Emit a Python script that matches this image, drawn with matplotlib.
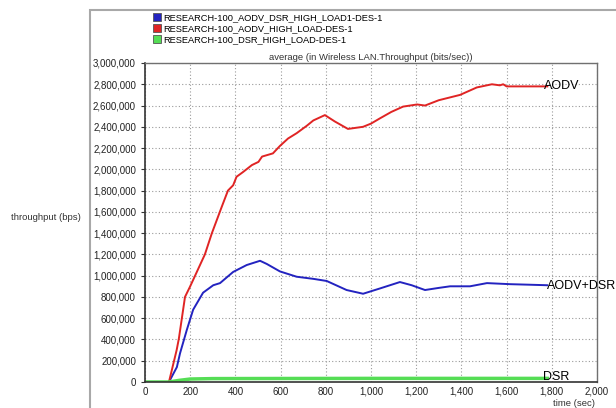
import matplotlib
matplotlib.use("Agg")
import matplotlib.pyplot as plt
from matplotlib.lines import Line2D
from matplotlib.patches import Rectangle
from matplotlib.ticker import FuncFormatter

plt.rcParams["font.family"] = ["Liberation Sans", "DejaVu Sans"]

# AODV (red)
aodv_t = [0, 106, 140, 150, 177, 200, 265, 296, 340, 367, 390, 405, 434, 473, 502, 518, 566, 597,
          633, 671, 716, 745, 796, 840, 898, 965, 1000, 1040, 1090, 1142, 1204, 1239, 1300, 1394,
          1468, 1535, 1570, 1585, 1600, 1690, 1761, 1780]
aodv_v = [0, 0, 0.30, 0.41, 0.80, 0.90, 1.20, 1.40, 1.65, 1.80, 1.85, 1.93, 1.975, 2.04, 2.07, 2.12,
          2.15, 2.22, 2.29, 2.34, 2.41, 2.46, 2.51, 2.45, 2.38, 2.40, 2.43, 2.48, 2.54, 2.59, 2.61,
          2.60, 2.65, 2.70, 2.77, 2.80, 2.79, 2.80, 2.78, 2.78, 2.78, 2.78]

# AODV+DSR (blue)
mix_t = [0, 106, 141, 155, 185, 213, 257, 302, 332, 390, 450, 509, 539, 597, 671, 745,
         804, 892, 965, 1040, 1128, 1180, 1239, 1300, 1350, 1438, 1513, 1615, 1700, 1780]
mix_v = [0, 0, 0.14, 0.27, 0.49, 0.68, 0.84, 0.91, 0.93, 1.035, 1.10, 1.14, 1.11, 1.04, 0.99, 0.97,
         0.95, 0.865, 0.83, 0.88, 0.94, 0.91, 0.865, 0.885, 0.90, 0.90, 0.93, 0.92, 0.915, 0.91]

# DSR (green)
dsr_t = [0, 106, 150, 200, 300, 600, 1000, 1400, 1780]
dsr_v = [0, 0, 0.015, 0.028, 0.032, 0.033, 0.034, 0.034, 0.034]

legend_labels = ["RESEARCH-100_AODV_DSR_HIGH_LOAD1-DES-1",
                 "RESEARCH-100_AODV_HIGH_LOAD-DES-1",
                 "RESEARCH-100_DSR_HIGH_LOAD-DES-1"]
colors = ["#2323c0", "#e02424", "#55dd55"]

W, H = 616, 408
fig = plt.figure(figsize=(6.16, 4.08), dpi=100)

# outer grey frame
fig.patches.append(Rectangle((90 / W, -0.1), 1.0, 1 - 10 / H + 0.1, transform=fig.transFigure,
                             fill=False, edgecolor="#a8a8a8", linewidth=1.5))

ax = fig.add_axes([145 / W, 1 - 382 / H, (597 - 145) / W, (382 - 63) / H])

M = 1e6
ax.plot(mix_t, [v * M for v in mix_v], color=colors[0], lw=1.4)
ax.plot(aodv_t, [v * M for v in aodv_v], color=colors[1], lw=1.4)
ax.plot(dsr_t, [v * M for v in dsr_v], color=colors[2], lw=2.5)

ax.set_xlim(0, 2000)
ax.set_ylim(0, 3e6)
ax.set_xticks(range(0, 2001, 200))
ax.set_yticks([i * 200000 for i in range(16)])
fmt = FuncFormatter(lambda v, p: f"{int(v):,}")
ax.xaxis.set_major_formatter(fmt)
ax.yaxis.set_major_formatter(fmt)
ax.tick_params(labelsize=7, length=3, width=0.8, color="#333333", labelcolor="#222222")
ax.tick_params(axis="x", length=0)
ax.grid(True, linestyle=(0, (1, 2)), color="#9a9a9a", linewidth=0.8)
for s in ["left", "bottom"]:
    ax.spines[s].set_color("#333333")
    ax.spines[s].set_linewidth(1.2)
for s in ["top", "right"]:
    ax.spines[s].set_color("#707070")
    ax.spines[s].set_linewidth(1.0)

ax.text(1765, 2.78 * M, "AODV", fontsize=9, va="center", ha="left")
ax.text(1779, 0.90 * M, "AODV+DSR", fontsize=9, va="center", ha="left")
ax.text(1763, 0.047 * M, "DSR", fontsize=9, va="center", ha="left")

fig.text(371 / W, 1 - 57 / H, "average (in Wireless LAN.Throughput (bits/sec))",
         fontsize=6.8, ha="center", va="center", color="#333333")
fig.text(46 / W, 1 - 218 / H, "throughput (bps)", fontsize=6.8, ha="center", va="center",
         color="#333333")
fig.text(574 / W, 1 - 403 / H, "time (sec)", fontsize=6.8, ha="center", va="center",
         color="#333333")

handles = [Line2D([], [], marker="s", linestyle="none", markersize=6, markerfacecolor=c,
                  markeredgecolor="#555555", markeredgewidth=0.6) for c in colors]
fig.legend(handles, legend_labels, loc="upper left", bbox_to_anchor=(153 / W, 1 - 13 / H),
           frameon=False, fontsize=6.7, handlelength=0.8, handletextpad=0.3,
           labelspacing=0.22, borderpad=0, borderaxespad=0)

fig.savefig("out.png", dpi=100)
